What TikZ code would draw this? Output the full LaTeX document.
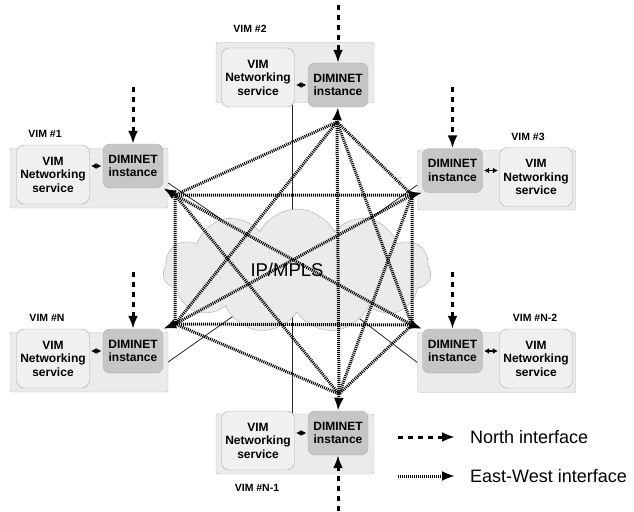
\documentclass[tikz,border=0pt]{standalone}
\usepackage{fontspec}
\setmainfont{Liberation Sans}
\usetikzlibrary{arrows.meta,positioning,calc,shapes.symbols}
\definecolor{vimfill}{HTML}{EBEBEB}
\definecolor{vimline}{HTML}{BDBDBD}
\definecolor{nsfill}{HTML}{F0F0F0}
\definecolor{nsline}{HTML}{ABABAB}
\definecolor{difill}{HTML}{C6C6C6}

\begin{document}
\begin{tikzpicture}[
        x=1pt, y=-1pt,
        VIM/.style={draw=vimline, fill=vimfill, rounded corners=1.5pt,
            minimum width=158pt, minimum height=60pt, inner sep=0pt},
        NS/.style={draw=nsline, fill=nsfill, rounded corners=8pt,
            minimum width=73pt, minimum height=59pt, inner sep=0pt,
            align=center, font=\bfseries\fontsize{12}{13.5}\selectfont},
        DI/.style={draw=nsline, fill=difill, rounded corners=7pt,
            minimum width=60pt, minimum height=44pt, inner sep=0pt,
            align=center, font=\bfseries\fontsize{12}{13.5}\selectfont},
        tag/.style={font=\bfseries\fontsize{10.5}{12}\selectfont, inner sep=0pt},
        legend/.style={font=\fontsize{18}{20}\selectfont, inner sep=2pt},
        north/.style={line width=3pt, dash pattern=on 5pt off 5pt,
            -{Latex[length=13pt,width=10pt]}},
        EW/.style={line width=3pt, dash pattern=on 1pt off 1pt},
        EWtip/.style={EW, -{Latex[length=13pt,width=10pt]}},
        both/.style={line width=1.5pt, shorten <=1.5pt, shorten >=1.5pt,
            {Latex[length=5pt,width=6pt]}-{Latex[length=5pt,width=6pt]}},
        link/.style={black!85, line width=0.8pt},
    ]
    \useasboundingbox (0,0) rectangle (634,511);

    % VIM #1
    \node[VIM] (v1) at (89,178) {};
    \node[NS] (s1) at (53,174.5) {VIM\\Networking\\service};
    \node[DI] (d1) at (133,166) {DIMINET\\instance};
    \node[tag] (t1) at (45,134) {VIM \#1};
    % VIM #2
    \node[VIM] (v2) at (295,72.5) {};
    \node[NS] (s2) at (258,77.5) {VIM\\Networking\\service};
    \node[DI] (d2) at (338,85) {DIMINET\\instance};
    \node[tag] (t2) at (250,29) {VIM \#2};
    % VIM #3
    \node[VIM] (v3) at (496.5,180) {};
    \node[DI] (d3) at (452.5,170.5) {DIMINET\\instance};
    \node[NS] (s3) at (536,177) {VIM\\Networking\\service};
    \node[tag] (t3) at (528,137) {VIM \#3};
    % VIM #N
    \node[VIM] (vN) at (89,362) {};
    \node[NS] (sN) at (53,358.5) {VIM\\Networking\\service};
    \node[DI] (dN) at (133,351) {DIMINET\\instance};
    \node[tag] (tN) at (47,318) {VIM \#N};
    % VIM #N-2
    \node[VIM] (vN2) at (496.5,362.5) {};
    \node[DI] (dN2) at (452.5,351) {DIMINET\\instance};
    \node[NS] (sN2) at (536,358.5) {VIM\\Networking\\service};
    \node[tag] (tN2) at (535,318) {VIM \#N-2};
    % VIM #N-1
    \node[VIM] (vN1) at (295,444) {};
    \node[NS] (sN1) at (258,440.5) {VIM\\Networking\\service};
    \node[DI] (dN1) at (338,433) {DIMINET\\instance};
    \node[tag] (tN1) at (257,488) {VIM \#N-1};

    % service <-> DIMINET
    \draw[both] (s1.east |- d1.west) -- (d1.west);
    \draw[both] (s2.east |- d2.west) -- (d2.west);
    \draw[both] (d3.east) -- (s3.west |- d3.east);
    \draw[both] (sN.east |- dN.west) -- (dN.west);
    \draw[both] (dN2.east) -- (sN2.west |- dN2.east);
    \draw[both] (sN1.east |- dN1.west) -- (dN1.west);

    % links to the IP/MPLS core
    \coordinate (ipc) at (297,271);
    \draw[link] ([xshift=-2pt,yshift=2pt]s2.south east)
        -- ([xshift=-2pt,yshift=-2pt]sN1.north east);
    \draw[link] ([yshift=-5pt]v1.east) -- (ipc);
    \draw[link] ([yshift=-5pt]v3.west) -- (ipc);
    \draw[link] (vN.east) -- (ipc);
    \draw[link] (vN2.west) -- (ipc);
    \node[cloud, cloud puffs=11, cloud puff arc=125, cloud ignores aspect,
        minimum width=268pt, minimum height=124pt, draw=vimline!90!black,
        fill=vimfill] (ip) at (ipc) {};

    % north interface
    \coordinate (n1) at (133,87);
    \coordinate (n2) at (338,5);
    \coordinate (n3) at (452.5,87);
    \coordinate (nN) at (133,272);
    \coordinate (nN2) at (452.5,272);
    \coordinate (nN1) at (338,511);
    \draw[north] (n1) -- (d1.north);
    \draw[north] (n2) -- (d2.north);
    \draw[north] (n3) -- (d3.north);
    \draw[north] (nN) -- (dN.north);
    \draw[north] (nN2) -- (dN2.north);
    \draw[north] (nN1) -- (dN1.south);

    % east-west interface, full mesh
    \coordinate (h1) at (175,195);
    \coordinate (h2) at (337,122);
    \coordinate (h3) at (412,195);
    \coordinate (hN) at (175,324);
    \coordinate (hN2) at (412,325);
    \coordinate (hN1) at (339,394);
    \draw[EW] (h1) -- (h2) (h1) -- (h3) (h1) -- (hN) (h1) -- (hN2) (h1) -- (hN1)
        (h2) -- (h3) (h2) -- (hN) (h2) -- (hN2) (h2) -- (hN1)
        (h3) -- (hN) (h3) -- (hN2) (h3) -- (hN1)
        (hN) -- (hN2) (hN) -- (hN1) (hN2) -- (hN1);
    \draw[EWtip] (h1) -- (d1.south east);
    \draw[EWtip] (h2) -- (d2.south);
    \draw[EWtip] (h3) -- (d3.south west);
    \draw[EWtip] (hN) -- (dN.north east);
    \draw[EWtip] (hN2) -- (dN2.north west);
    \draw[EWtip] (hN1) -- (dN1.north);

    \node[font=\fontsize{18.5}{20}\selectfont, inner sep=0pt] (ipt) at (287,270) {IP/MPLS};

    % legend
    \coordinate (ln) at (398,437);
    \coordinate (le) at (398,476);
    \node[legend, anchor=west] (lnt) at (468,437) {North interface};
    \node[legend, anchor=west] (let) at (468,476) {East-West interface};
    \draw[north, shorten >=13pt] (ln) -- (lnt.west);
    \draw[EWtip, shorten >=13pt] (le) -- (let.west);
\end{tikzpicture}
\end{document}
